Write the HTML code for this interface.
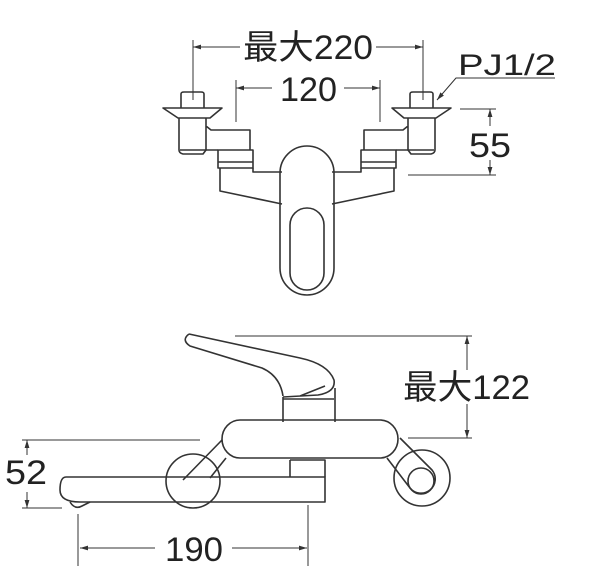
<!DOCTYPE html><html><head><style>body{margin:0;background:#fff}svg{display:block}text{font-family:"Liberation Sans","Noto Sans CJK JP",sans-serif;fill:#222}</style></head><body>
<svg width="600" height="584" viewBox="0 0 600 584" fill="none" stroke="#333" stroke-width="1.6" stroke-linejoin="round">
<defs><marker id="a" viewBox="0 0 10 10" refX="10" refY="5" markerWidth="8" markerHeight="8" orient="auto-start-reverse"><path d="M0,2 L10,5 L0,8z" fill="#333" stroke="none"/></marker></defs>
<g stroke-width="1">
<path d="M193,40V100M423,40V100M236,80V122M380,80V122"/>
<path d="M193,47H240" marker-start="url(#a)"/><path d="M376,47H423" marker-end="url(#a)"/>
<path d="M236,88H272" marker-start="url(#a)"/><path d="M344,88H380" marker-end="url(#a)"/>
<path d="M460,109H496M408,175H496"/>
<path d="M490,126V109" marker-end="url(#a)"/><path d="M490,160V175" marker-end="url(#a)"/>
<path d="M555,78H456L437,100" marker-end="url(#a)"/>
</g>
<text x="243" y="59" font-size="34" textLength="130" lengthAdjust="spacingAndGlyphs" stroke="none">最大220</text>
<text x="280" y="101" font-size="34" textLength="57" lengthAdjust="spacingAndGlyphs" stroke="none">120</text>
<text x="458" y="75" font-size="30" textLength="98" lengthAdjust="spacingAndGlyphs" stroke="none">PJ1/2</text>
<text x="469" y="157" font-size="34" textLength="42" lengthAdjust="spacingAndGlyphs" stroke="none">55</text>
<g id="v">
<path d="M181,108V94Q181,92 184,92H201Q204,92 204,94V108"/>
<path d="M163,108H222L210,118H178Z"/>
<path d="M179,118V150Q179,153 183,154H203L206,150V118M206,126L211,130H250V150"/>
<path d="M180,150H218"/>
<path d="M218,150H253V168H218ZM218,162H253"/>
<path d="M220,168V191L282,204M253,168V172H282"/>
</g>
<use href="#v" transform="translate(614,0) scale(-1,1)"/>
<rect x="280" y="146" width="54" height="149" rx="27"/>
<rect x="290" y="208" width="34" height="82" rx="17"/>
<g stroke-width="1">
<path d="M235,336H472M408,438H472M22,440H200M22,508H62M78,514V566M308,505V566"/>
<path d="M467,370V336" marker-end="url(#a)"/><path d="M467,404V438" marker-end="url(#a)"/>
<path d="M27,455V440" marker-end="url(#a)"/><path d="M27,492V508" marker-end="url(#a)"/>
<path d="M155,548H80" marker-end="url(#a)"/><path d="M232,548H307" marker-end="url(#a)"/>
</g>
<text x="403" y="399" font-size="34" textLength="127" lengthAdjust="spacingAndGlyphs" stroke="none">最大122</text>
<text x="5" y="484" font-size="34" textLength="42" lengthAdjust="spacingAndGlyphs" stroke="none">52</text>
<text x="165" y="561" font-size="34" textLength="58" lengthAdjust="spacingAndGlyphs" stroke="none">190</text>
<circle cx="193" cy="481" r="27"/>
<circle cx="422" cy="478" r="28"/>
<path d="M189,334Q181,340 190,346L262,368Q280,376 283,396M189,334L300,358Q328,364 334,380Q336,392 318,395L283,397M300,396L325,386"/>
<path d="M283,397V422M335,388V422M283,399H334"/>
<path d="M240,420H380A18,19 0 0 1 380,458H240A18,19 0 0 1 240,420Z"/>
<path d="M222,440L183,480M226,458L210,478M387,458L410,488A13,13 0 1 0 432,470L400,438"/>
<circle cx="421" cy="481" r="13"/>
<path d="M290,460H325V477M290,460V477"/>
<path d="M66,477H325V502H80Q60,502 60,490Q60,477 66,477Z"/>
<path d="M70,502Q75,510 82,506L90,502"/>
</svg>
</body></html>
